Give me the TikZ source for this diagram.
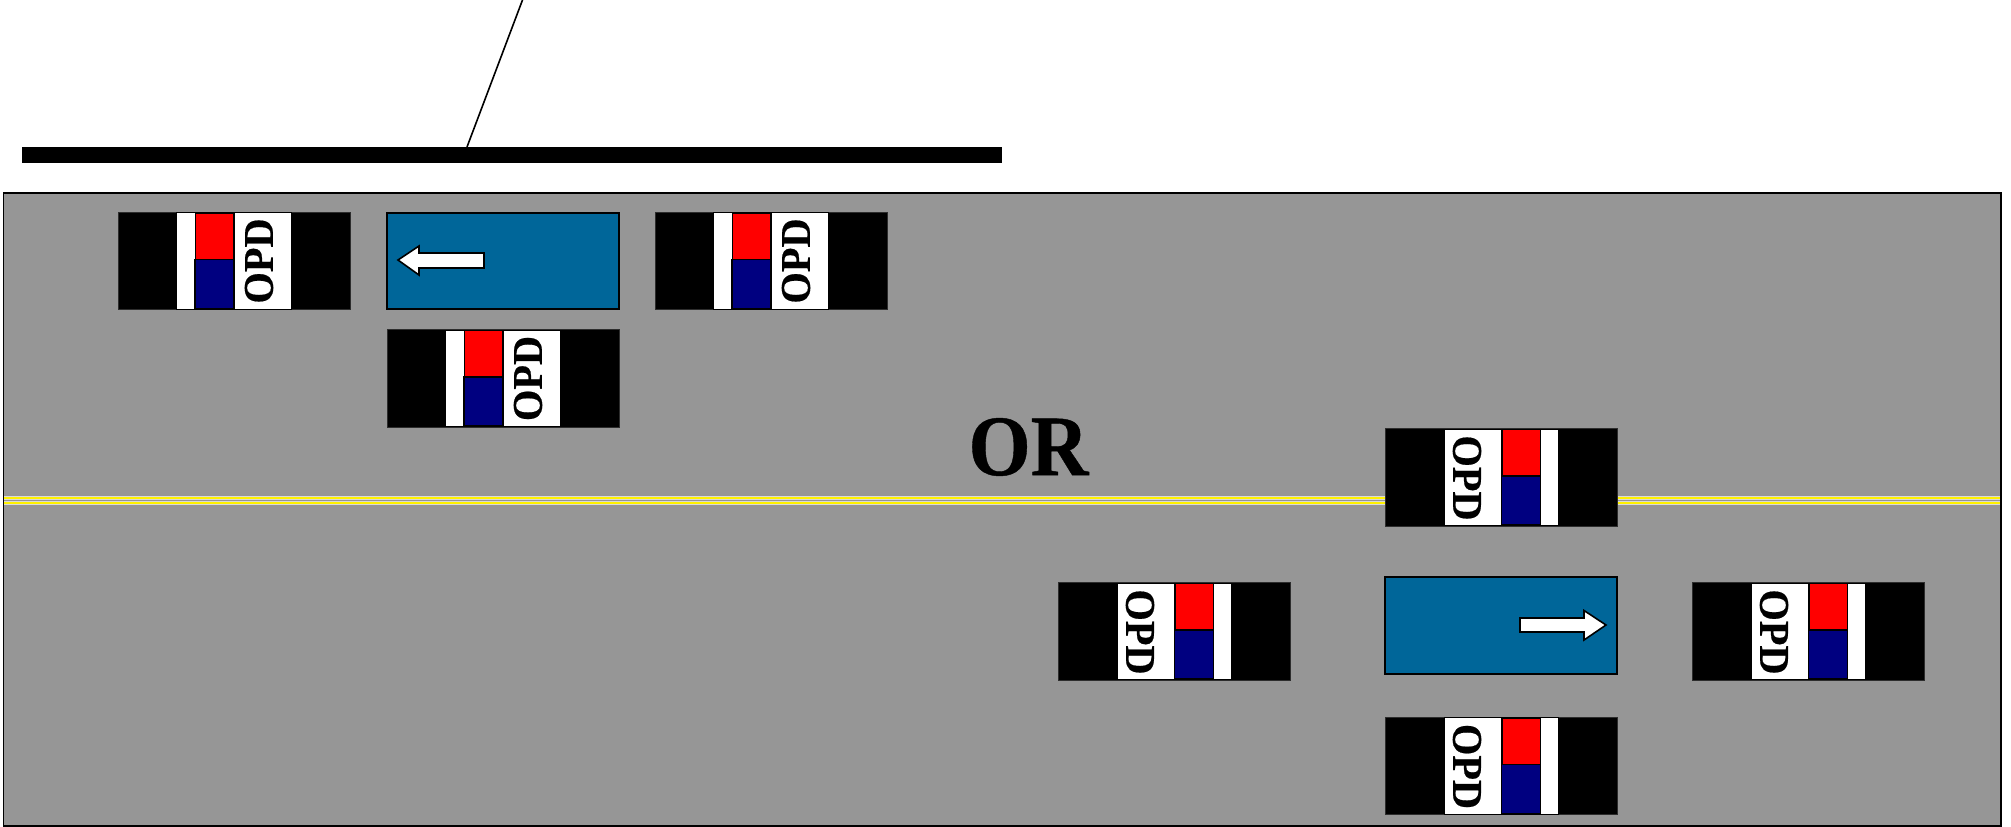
\documentclass[tikz,border=0pt]{standalone}
\usepackage{fontspec}
\setmainfont{Liberation Serif}
\newfontfamily\heavyfont[FakeBold=0.5]{Liberation Serif Bold}
\definecolor{roadgray}{HTML}{969696}
\definecolor{navy}{HTML}{000080}
\definecolor{signblue}{HTML}{006699}
\tikzset{
  x=1pt,y=-1pt,
  roadfill/.style={fill=roadgray,draw=none},
  roadedge/.style={draw=black,line width=1.6pt},
  bar/.style={fill=black,draw=none},
  body/.style={fill=black,draw=black!70!roadgray,line width=0.8pt},
  win/.style={fill=white,draw=black,line width=0.8pt},
  redpart/.style={fill=red,draw=black,line width=1.2pt},
  bluepart/.style={fill=navy,draw=black,line width=1.2pt},
  sign/.style={fill=signblue,draw=black,line width=1.5pt},
  arrowshape/.style={fill=white,draw=black,line width=1.6pt,line join=miter},
  lane/.style={draw=yellow,line width=2.2pt},
  lanehalo/.style={draw=white!65!roadgray,line width=3.4pt},
  opdtext/.style={inner sep=0pt},
  ortext/.style={inner sep=0pt},
}
\newcommand{\opdlabel}{\resizebox{85pt}{28pt}{\heavyfont OPD}}
% unit with the text on its right: #1,#2 = top-left of body, #3 = name
\newcommand{\opdleft}[3]{%
  \begin{scope}[shift={(#1,#2)}]
    \path[body] (0,0) rectangle (232,97.5);
    \path[win] (58.5,0.5) rectangle (173,97);
    \path[redpart] (77.5,1) rectangle (116,47.5);
    \path[bluepart] (77,47.5) rectangle (116,96.5);
    \node[opdtext,rotate=90] (#3) at (141,49) {\opdlabel};
  \end{scope}}
% unit with the text on its left
\newcommand{\opdright}[3]{%
  \begin{scope}[shift={(#1,#2)}]
    \path[body] (0,0) rectangle (232,97.5);
    \path[win] (59,0.5) rectangle (173.5,97);
    \path[redpart] (117,1) rectangle (155.5,47.5);
    \path[bluepart] (116.5,47.5) rectangle (155.5,96.5);
    \node[opdtext,rotate=-90] (#3) at (82,49.5) {\opdlabel};
  \end{scope}}
\begin{document}
\begin{tikzpicture}
\useasboundingbox (0,0) rectangle (2011,827);
\path[fill=white] (0,0) rectangle (2011,827);
\path[roadfill] (3.5,193) rectangle (2001,826);
\path[bar] (22,147) rectangle (1002,162.5);
\coordinate (poletop) at (522.5,0);
\coordinate (polebase) at (467,147);
\draw[black,line width=1.6pt] (poletop) -- (polebase);
\foreach \yy in {498,503}{
  \path[lanehalo] (3.5,\yy) -- (2001,\yy);
  \path[lane] (3.5,\yy) -- (2001,\yy);
}
\path[roadedge] (3.5,193) rectangle (2001,826.2);
\opdleft{118}{212}{u1}
\opdleft{387}{329.5}{u2}
\opdleft{655}{212}{u3}
\path[sign] (387,213) rectangle (619,309);
\draw[arrowshape] (398,260) -- (419,246) -- (419,253) -- (484,253) -- (484,268) -- (419,268) -- (419,275) -- cycle;
\node[ortext] (ortxt) at (1028.5,447) {\resizebox{120pt}{57pt}{\heavyfont OR}};
\opdright{1385}{428.5}{u4}
\opdright{1058}{582.5}{u5}
\opdright{1692}{582.5}{u6}
\opdright{1385}{717}{u7}
\path[sign] (1385,577) rectangle (1617,674);
\draw[arrowshape] (1606,625) -- (1584,610.5) -- (1584,618) -- (1520,618) -- (1520,632) -- (1584,632) -- (1584,640) -- cycle;
\end{tikzpicture}
\end{document}
